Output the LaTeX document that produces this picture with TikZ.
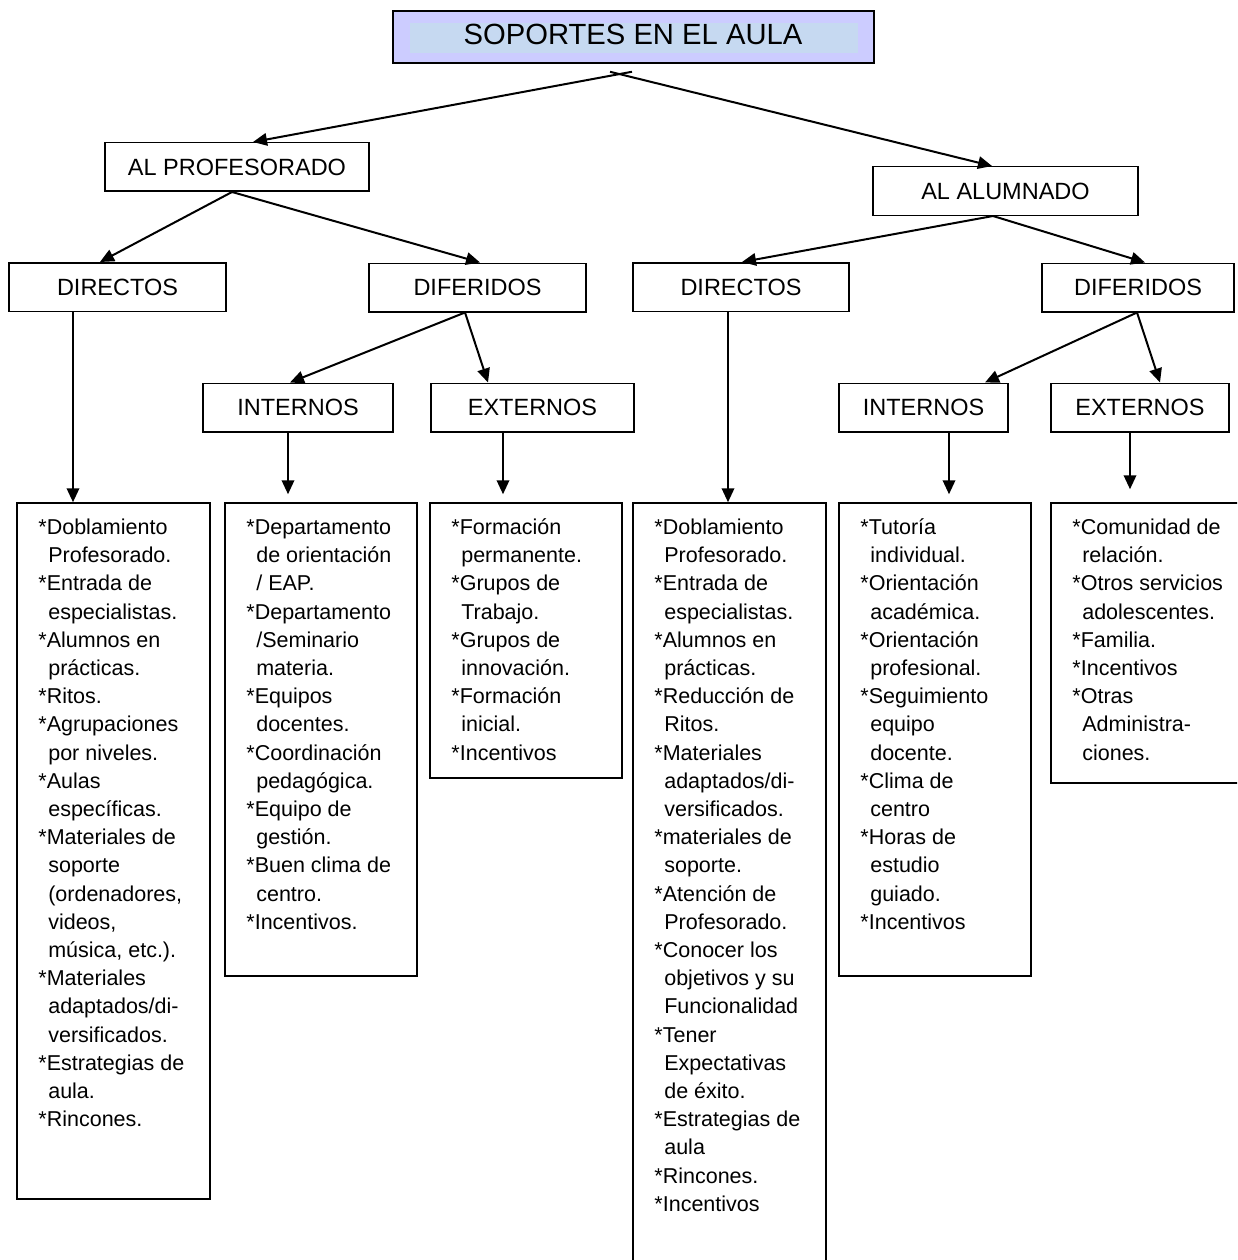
\documentclass[tikz,border=0pt]{standalone}
\usepackage{fontspec}
\setmainfont{Liberation Sans}
\usetikzlibrary{arrows.meta,calc}
\definecolor{titlelav}{RGB}{204,204,255}
\definecolor{titleband}{RGB}{198,217,241}
% hanging indent for the continuation lines of a list item
\newcommand\indcont{\phantom{*}\hspace{1.5pt}}
\begin{document}
\begin{tikzpicture}[x=1pt,y=-1pt,
  hdr/.style={draw, line width=1.5pt, inner sep=0pt, minimum height=48.5pt,
    font=\fontsize{23.5}{28}\selectfont},
  listbox/.style={draw, line width=1.5pt, inner sep=0pt},
  listtext/.style={anchor=north west, inner sep=0pt, align=left,
    font=\fontsize{21.5}{28.2}\selectfont},
  arr/.style={line width=2pt, -{Triangle[length=14pt,width=12.5pt]}},
]
\useasboundingbox (0,0) rectangle (1237,1260);
\clip (0,0) rectangle (1237,1260);
\fill[white] (0,0) rectangle (1237,1260);

% title
\node[draw, line width=1.5pt, fill=titlelav, minimum width=481pt, minimum height=52pt, inner sep=0pt] (title) at (633.5,37) {};
\node[fill=titleband, minimum width=448pt, minimum height=30pt, inner sep=0pt] (band) at (634,38) {};
\node[anchor=base, inner sep=0pt, font=\fontsize{29.2}{34}\selectfont] (titletext) at (633,45) {SOPORTES EN EL AULA};

% headings
\node[hdr, minimum width=264pt] (aprof) at (237,167) {AL PROFESORADO};
\node[hdr, minimum width=265pt] (aalum) at (1005.5,191) {AL ALUMNADO};
\node[hdr, minimum width=217pt] (pdir) at (117.5,287) {DIRECTOS};
\node[hdr, minimum width=217pt] (pdif) at (477.5,287.5) {DIFERIDOS};
\node[hdr, minimum width=216pt] (adir) at (741,287) {DIRECTOS};
\node[hdr, minimum width=192pt] (adif) at (1138,287.5) {DIFERIDOS};
\node[hdr, minimum width=190pt] (pint) at (298,407.5) {INTERNOS};
\node[hdr, minimum width=203pt] (pext) at (532.5,407.5) {EXTERNOS};
\node[hdr, minimum width=169pt] (aint) at (923.5,407.5) {INTERNOS};
\node[hdr, minimum width=178pt] (aext) at (1140,407.5) {EXTERNOS};

% list boxes
\node[listbox, minimum width=193pt, minimum height=696pt] (pdirlist) at (113.5,851) {};
\node[listbox, minimum width=192pt, minimum height=473pt] (pintlist) at (321,739.5) {};
\node[listbox, minimum width=192pt, minimum height=275pt] (pextlist) at (526,640.5) {};
\node[listbox, minimum width=193pt, minimum height=772pt] (adirlist) at (729.5,889) {};
\node[listbox, minimum width=192pt, minimum height=473pt] (aintlist) at (935,739.5) {};
\node[listbox, minimum width=192pt, minimum height=280pt] (aextlist) at (1147,643) {};

% list texts
\node[listtext] (pdirtext) at ($(pdirlist.north west)+(22,12.3)$) {\strut*Doblamiento\\
\indcont Profesorado.\\
*Entrada de\\
\indcont especialistas.\\
*Alumnos en\\
\indcont prácticas.\\
*Ritos.\\
*Agrupaciones\\
\indcont por niveles.\\
*Aulas\\
\indcont específicas.\\
*Materiales de\\
\indcont soporte\\
\indcont (ordenadores,\\
\indcont videos,\\
\indcont música, etc.).\\
*Materiales\\
\indcont adaptados/di-\\
\indcont versificados.\\
*Estrategias de\\
\indcont aula.\\
*Rincones.};

\node[listtext] (pinttext) at ($(pintlist.north west)+(22,12.3)$) {\strut*Departamento\\
\indcont de orientación\\
\indcont / EAP.\\
*Departamento\\
\indcont /Seminario\\
\indcont materia.\\
*Equipos\\
\indcont docentes.\\
*Coordinación\\
\indcont pedagógica.\\
*Equipo de\\
\indcont gestión.\\
*Buen clima de\\
\indcont centro.\\
*Incentivos.};

\node[listtext] (pexttext) at ($(pextlist.north west)+(22,12.3)$) {\strut*Formación\\
\indcont permanente.\\
*Grupos de\\
\indcont Trabajo.\\
*Grupos de\\
\indcont innovación.\\
*Formación\\
\indcont inicial.\\
*Incentivos};

\node[listtext] (adirtext) at ($(adirlist.north west)+(22,12.3)$) {\strut*Doblamiento\\
\indcont Profesorado.\\
*Entrada de\\
\indcont especialistas.\\
*Alumnos en\\
\indcont prácticas.\\
*Reducción de\\
\indcont Ritos.\\
*Materiales\\
\indcont adaptados/di-\\
\indcont versificados.\\
*materiales de\\
\indcont soporte.\\
*Atención de\\
\indcont Profesorado.\\
*Conocer los\\
\indcont objetivos y su\\
\indcont Funcionalidad\\
*Tener\\
\indcont Expectativas\\
\indcont de éxito.\\
*Estrategias de\\
\indcont aula\\
*Rincones.\\
*Incentivos};

\node[listtext] (ainttext) at ($(aintlist.north west)+(22,12.3)$) {\strut*Tutoría\\
\indcont individual.\\
*Orientación\\
\indcont académica.\\
*Orientación\\
\indcont profesional.\\
*Seguimiento\\
\indcont equipo\\
\indcont docente.\\
*Clima de\\
\indcont centro\\
*Horas de\\
\indcont estudio\\
\indcont guiado.\\
*Incentivos};

\node[listtext] (aexttext) at ($(aextlist.north west)+(22,12.3)$) {\strut*Comunidad de\\
\indcont relación.\\
*Otros servicios\\
\indcont adolescentes.\\
*Familia.\\
*Incentivos\\
*Otras\\
\indcont Administra-\\
\indcont ciones.};

% connectors
\coordinate (apexL) at ($(title.south)+(-1.5,8)$);
\coordinate (apexR) at ($(title.south)+(-23.5,8)$);
\draw[arr] (apexL) -- ($(aprof.north)+(16,0)$);
\draw[arr] (apexR) -- ($(aalum.north)+(-13.5,0)$);
\draw[arr] ($(aprof.south)+(-5,0)$) -- ($(pdir.north)+(-17.5,0)$);
\draw[arr] ($(aprof.south)+(-5,0)$) -- ($(pdif.north)+(2.5,0)$);
\draw[arr] ($(aalum.south)+(-12.5,0)$) -- ($(adir.north)+(1,0)$);
\draw[arr] ($(aalum.south)+(-12.5,0)$) -- ($(adif.north)+(7,0)$);
\draw[arr] ($(pdif.south)+(-12.5,0)$) -- ($(pint.north)+(-8,0)$);
\draw[arr] ($(pdif.south)+(-12.5,0)$) -- ($(pext.north)+(-44.5,0)$);
\draw[arr] ($(adif.south)+(-1,0)$) -- ($(aint.north)+(61.5,0)$);
\draw[arr] ($(adif.south)+(-1,0)$) -- ($(aext.north)+(20,0)$);

\draw[arr] ($(pdir.south)+(-44.5,0)$) -- ($(pdir.south |- pdirlist.north)+(-44.5,0)$);
\draw[arr] ($(pint.south)+(-10,0)$) -- ($(pint.south |- pintlist.north)+(-10,-8)$);
\draw[arr] ($(pext.south)+(-29.5,0)$) -- ($(pext.south |- pextlist.north)+(-29.5,-8)$);
\draw[arr] ($(adir.south)+(-13,0)$) -- ($(adir.south |- adirlist.north)+(-13,0)$);
\draw[arr] ($(aint.south)+(25.5,0)$) -- ($(aint.south |- aintlist.north)+(25.5,-8)$);
\draw[arr] ($(aext.south)+(-10,0)$) -- ($(aext.south |- aextlist.north)+(-10,-13)$);
\end{tikzpicture}
\end{document}
